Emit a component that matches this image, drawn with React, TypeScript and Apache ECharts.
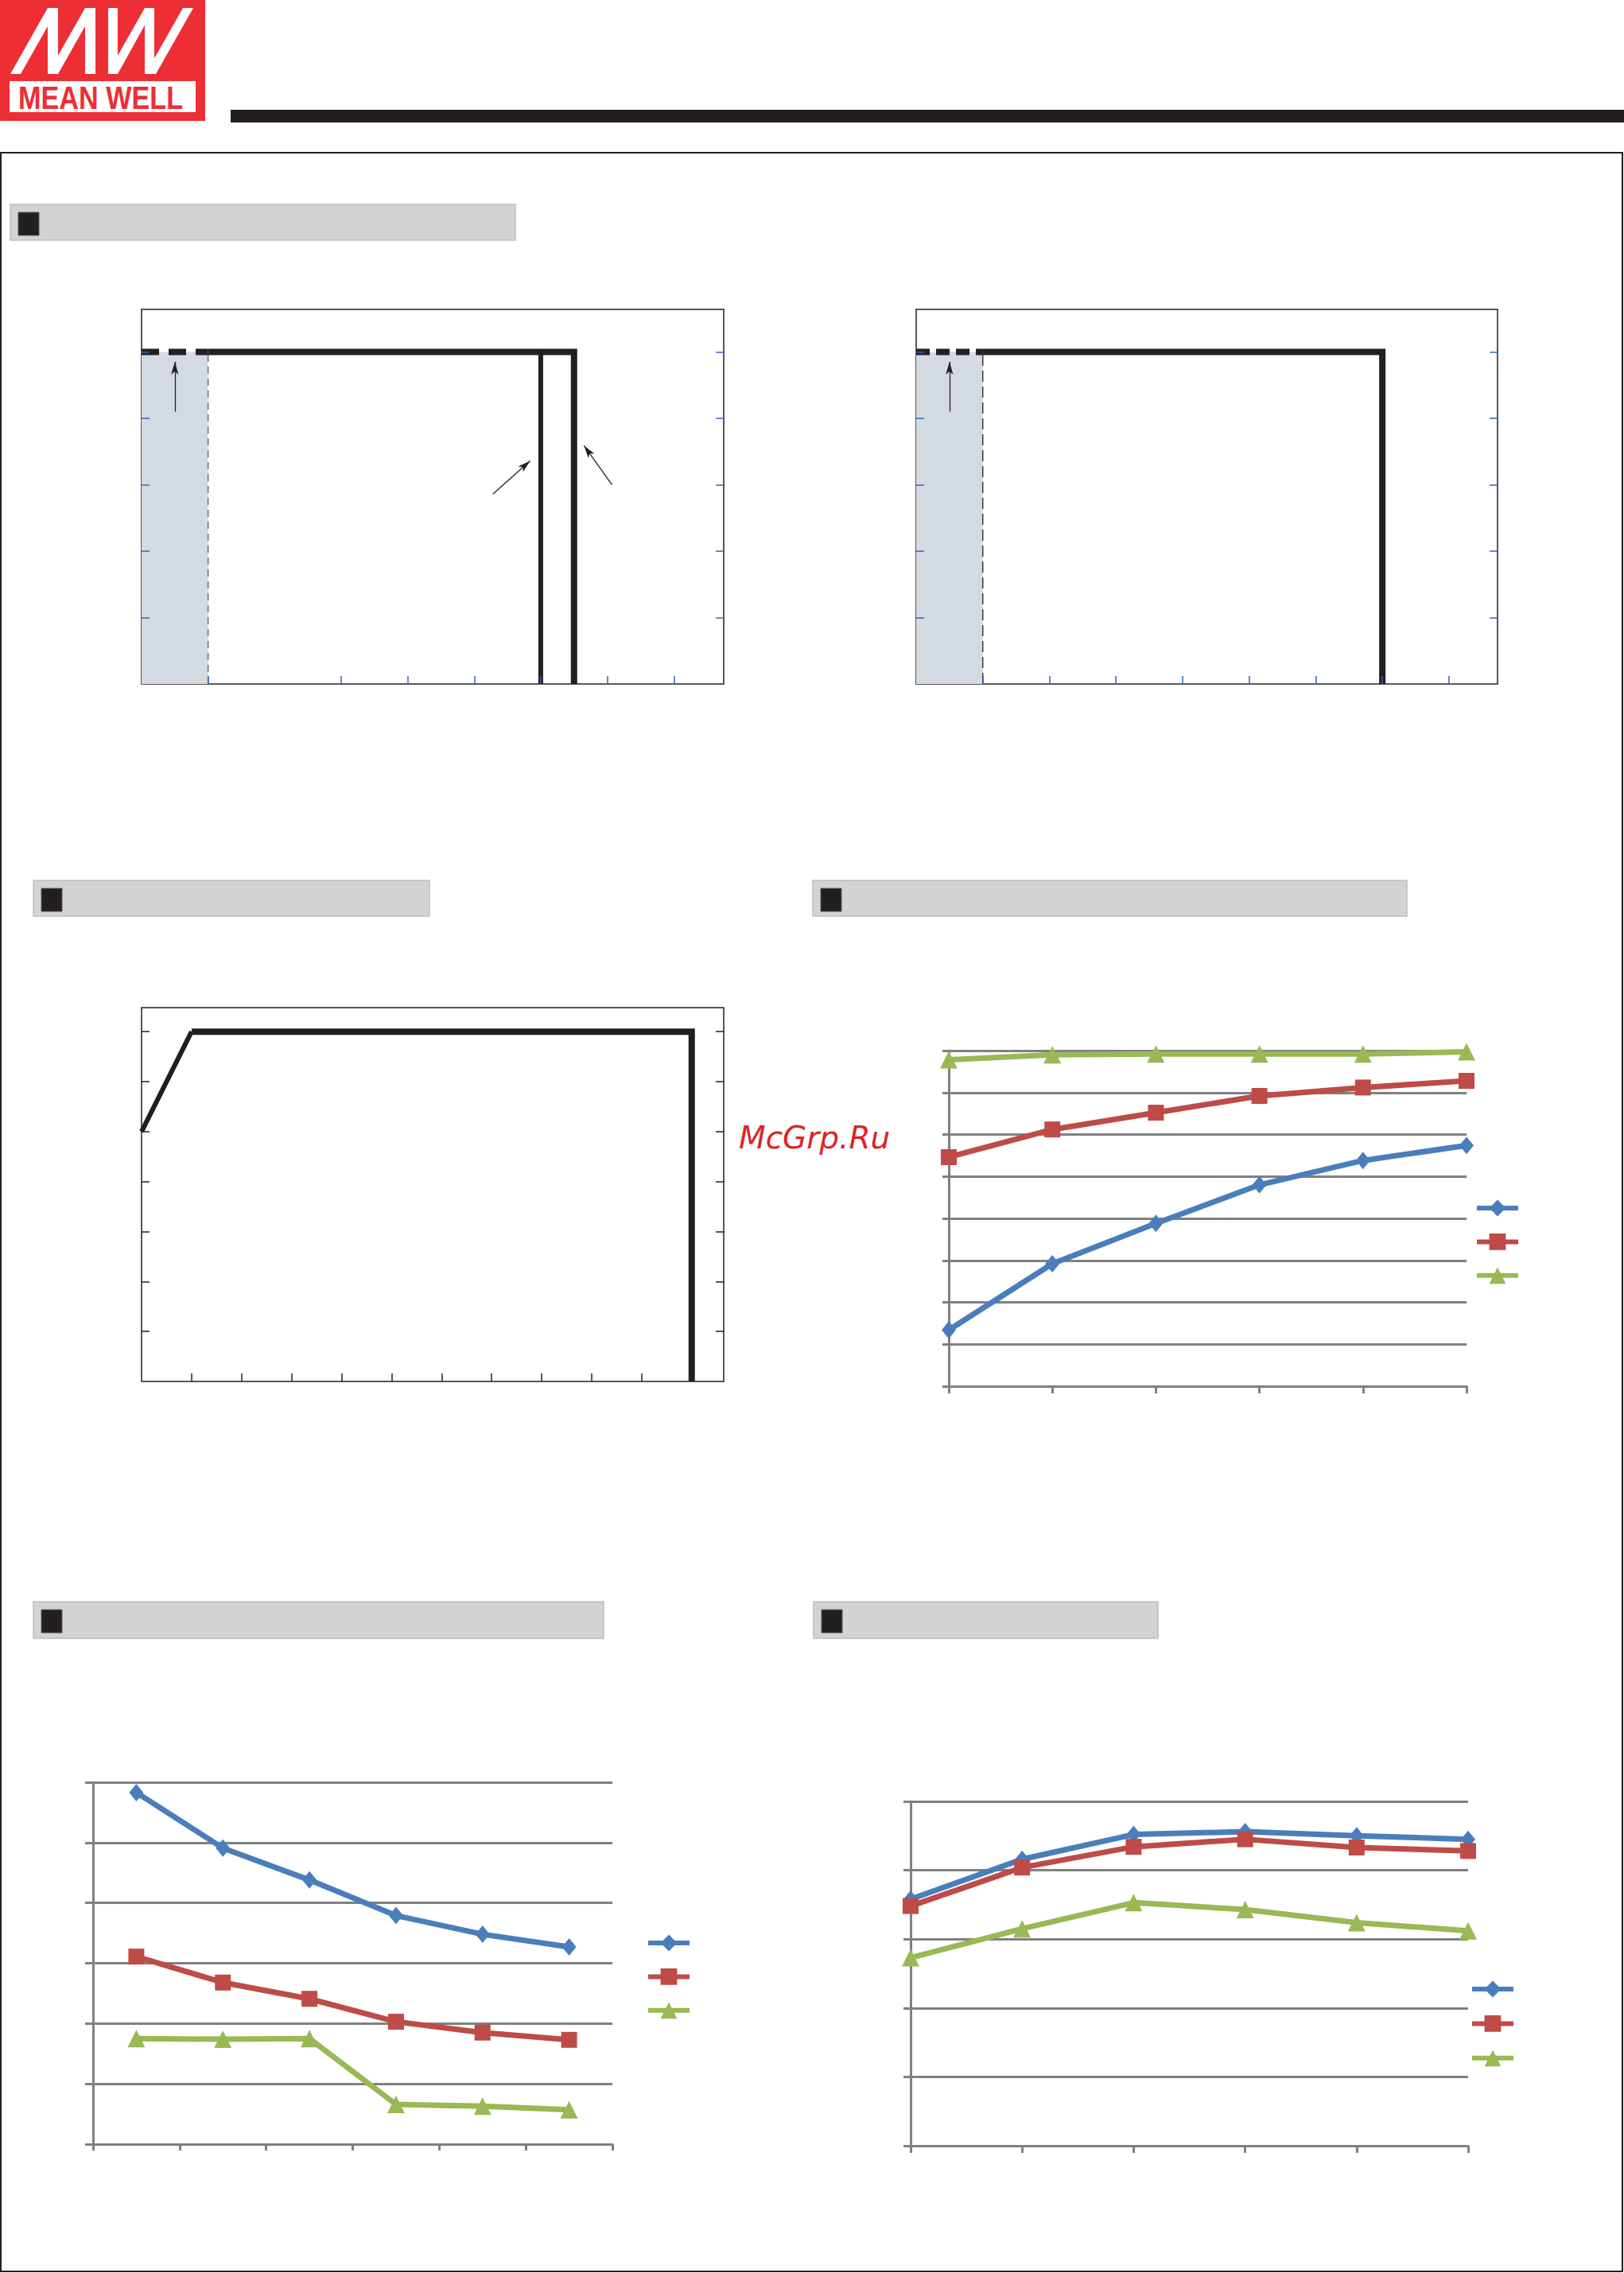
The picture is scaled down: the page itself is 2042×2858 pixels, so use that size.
import React, { useEffect, useRef } from 'react';
import * as echarts from 'echarts';

// ---------------- data ----------------
// Derating curve A (two mounting directions)
const DERATE_A_DASHED: [number, number][] = [[-30, 100], [-20, 100]];
const DERATE_A_MAIN: [number, number][] = [[-20, 100], [35, 100], [35, 0]];
const DERATE_A_ALT: [number, number][] = [[30, 100], [30, 0]];
const DERATE_A_SHADE: [number, number] = [-30, -20];
const DERATE_A_ARROWS: [number, number][][] = [
  [[-25, 82], [-25, 97]],
  [[22.8, 57.2], [28.4, 67.2]],
  [[40.7, 60], [36.5, 71.8]],
];
const DERATE_A_XTICKS = [-20, 0, 10, 20, 30, 40, 50];

// Derating curve B
const DERATE_B_DASHED: [number, number][] = [[-30, 100], [-20, 100]];
const DERATE_B_MAIN: [number, number][] = [[-20, 100], [40, 100], [40, 0]];
const DERATE_B_SHADE: [number, number] = [-30, -20];
const DERATE_B_ARROWS: [number, number][][] = [[[-25, 82], [-25, 97]]];
const DERATE_B_XTICKS = [-20, -10, 0, 10, 20, 30, 40, 50];
const DERATE_YTICKS = [20, 40, 60, 80, 100];

// Output derating vs input voltage
const INPUT_SLOPE: [number, number][] = [[90, 80], [100, 100]];
const INPUT_FLAT: [number, number][] = [[100, 100], [200, 100], [200, 30]];
const INPUT_XTICKS = [100, 110, 120, 130, 140, 150, 160, 170, 180, 190, 200];
const INPUT_YTICKS = [40, 50, 60, 70, 80, 90, 100];

// Efficiency vs load
const EFF_CATS = ['10%', '20%', '40%', '60%', '80%', '100%'];
const EFF_A = [56.7, 64.6, 69.4, 74.0, 76.9, 78.7];
const EFF_B = [77.3, 80.6, 82.6, 84.6, 85.6, 86.4];
const EFF_C = [88.9, 89.5, 89.6, 89.6, 89.6, 89.85];

// Bottom-left chart
const P5_CATS = ['1', '2', '3', '4', '5', '6'];
const P5_A = [0.583, 0.491, 0.438, 0.379, 0.348, 0.327];
const P5_B = [0.311, 0.268, 0.241, 0.203, 0.185, 0.173];
const P5_C = [0.175, 0.174, 0.175, 0.066, 0.063, 0.057];

// Bottom-right chart
const P6_CATS = ['1', '2', '3', '4', '5', '6'];
const P6_A = [85.8, 91.6, 95.2, 95.6, 95.0, 94.5];
const P6_B = [84.8, 90.4, 93.4, 94.5, 93.3, 92.8];
const P6_C = [77.3, 81.5, 85.3, 84.3, 82.4, 81.2];

// ---------------- styles ----------------
const INK = '#231f20';
const TICK_BLUE = '#3565b0';
const GRID_GREY = '#808080';
const BLUE = '#4a7ebb';
const RED = '#be4b48';
const GREEN = '#98b954';
const SHADE = '#d3dae1';

// header boxes [x, y, w, h]
const HEADERS: number[][] = [
  [13, 257, 635, 45],
  [42, 1107, 498, 45],
  [1022, 1107, 747, 45],
  [42, 2014, 717, 46],
  [1023, 2014, 433, 46],
];

const MW_STROKES: number[][][] = [
  [[13, 93], [26, 93], [73, 10], [60, 10]],
  [[60, 10], [73, 10], [73, 93], [60, 93]],
  [[73, 70], [107, 10], [120, 10], [73, 93]],
  [[107, 10], [120, 10], [120, 93], [107, 93]],
  [[136, 10], [148, 10], [148, 93], [136, 93]],
  [[148, 70], [182, 10], [194, 10], [148, 93]],
  [[182, 10], [194, 10], [194, 93], [182, 93]],
  [[183, 93], [196, 93], [243, 10], [230, 10]],
];

function boxValueX(gridIndex: number, min: number, max: number, ticks: number[], color: string) {
  return {
    type: 'value', gridIndex, min, max, z: 10,
    axisLine: { show: false, onZero: false },
    axisTick: { show: true, inside: true, length: 10, customValues: ticks, lineStyle: { color, width: 1.5 } },
    axisLabel: { show: false },
    splitLine: { show: false },
  };
}
function boxValueY(gridIndex: number, min: number, max: number, ticks: number[], color: string, position: string) {
  return {
    type: 'value', gridIndex, min, max, position, z: 10,
    axisLine: { show: false, onZero: false },
    axisTick: { show: true, inside: true, length: 10, customValues: ticks, lineStyle: { color, width: 1.5 } },
    axisLabel: { show: false },
    splitLine: { show: false },
  };
}
function catX(gridIndex: number, data: string[], boundaryGap: boolean, tickLen: number) {
  return {
    type: 'category', gridIndex, data, boundaryGap,
    axisLine: { show: true, onZero: false, lineStyle: { color: GRID_GREY, width: 3 } },
    axisTick: { show: true, length: tickLen, lineStyle: { color: GRID_GREY, width: 3 } },
    axisLabel: { show: false },
    splitLine: { show: false },
  };
}
function gridY(gridIndex: number, min: number, max: number, interval: number, tickLen: number) {
  return {
    type: 'value', gridIndex, min, max, interval,
    axisLine: { show: true, onZero: false, lineStyle: { color: GRID_GREY, width: 3 } },
    axisTick: { show: true, length: tickLen, lineStyle: { color: GRID_GREY, width: 3 } },
    axisLabel: { show: false },
    splitLine: { show: true, lineStyle: { color: GRID_GREY, width: 3 } },
  };
}
function inkLine(data: [number, number][], xi: number, yi: number, width: number, dash?: number[]) {
  return {
    type: 'line', data, xAxisIndex: xi, yAxisIndex: yi, symbol: 'none', z: 4,
    lineStyle: { color: INK, width, type: dash || 'solid', join: 'miter', cap: 'butt' },
    silent: true,
  };
}
function arrows(list: [number, number][][]) {
  return {
    silent: true,
    symbol: ['none', 'arrow'],
    symbolSize: [7, 16],
    label: { show: false },
    lineStyle: { color: INK, width: 1.3, type: 'solid' },
    data: list.map(([a, b]) => [{ coord: a }, { coord: b }]),
  };
}
function shadeSeries(shade: [number, number], xi: number, yi: number, dash: number[], color: string) {
  return {
    type: 'line', xAxisIndex: xi, yAxisIndex: yi, symbol: 'none', z: 2, silent: true,
    data: [[shade[1], 0], [shade[1], 100]],
    lineStyle: { color, width: 1.5, type: dash },
    markArea: {
      silent: true,
      itemStyle: { color: SHADE },
      data: [[{ coord: [shade[0], 0] }, { coord: [shade[1], 100] }]],
    },
  };
}
function markerLine(name: string, data: number[], color: string, symbol: string, size: any, xi: number, yi: number) {
  return {
    type: 'line', name, data, xAxisIndex: xi, yAxisIndex: yi, symbol, symbolSize: size, z: 3,
    lineStyle: { color, width: 7 },
    itemStyle: { color },
  };
}
function legendAt(left: number, centerTop: number, step: number, names: string[]) {
  const h = 26;
  return {
    left, top: centerTop - h / 2, orient: 'vertical', padding: 0, itemWidth: 52, itemHeight: h, itemGap: step - h,
    selectedMode: false, formatter: () => '', data: names,
    lineStyle: { width: 6 },
  };
}

function buildOption() {
  const graphic: any[] = [];
  graphic.push({ type: 'rect', shape: { x: 0, y: 0, width: 258, height: 152 }, style: { fill: '#ed2e34' } });
  graphic.push({ type: 'rect', shape: { x: 12, y: 102, width: 234, height: 39 }, style: { fill: '#ffffff' } });
  MW_STROKES.forEach((pts) => graphic.push({ type: 'polygon', shape: { points: pts }, style: { fill: '#ffffff' } }));
  graphic.push({
    type: 'text', x: 23, y: 123, scaleX: 0.855,
    style: { text: 'MEAN WELL', x: 0, y: 0, fill: '#ed2e34', font: 'bold 40px "Liberation Sans", Arial, sans-serif', textAlign: 'left', textVerticalAlign: 'middle' },
  });
  graphic.push({ type: 'rect', shape: { x: 290, y: 138, width: 1752, height: 16 }, style: { fill: INK } });
  HEADERS.forEach(([x, y, w, h]) => {
    graphic.push({ type: 'rect', shape: { x, y, width: w, height: h }, style: { fill: '#d1d3d4', stroke: '#bcbec0', lineWidth: 1.5 } });
    graphic.push({ type: 'rect', shape: { x: x + 10, y: y + 10, width: 26, height: 29 }, style: { fill: INK, stroke: '#58595b', lineWidth: 1 } });
  });
  graphic.push({
    type: 'text', x: 929, y: 1430,
    style: { text: 'McGrp.Ru', x: 0, y: 0, fill: '#dd2424', font: 'italic 39px "DejaVu Sans", sans-serif', textAlign: 'left', textVerticalAlign: 'middle' },
  });
  graphic.push({ type: 'rect', z: 100, shape: { x: 1, y: 192, width: 2039, height: 2664 }, style: { fill: 'none', stroke: INK, lineWidth: 2 } });

  const boxGrid = { show: true, borderColor: INK, borderWidth: 1.5, backgroundColor: 'transparent' };

  return {
    animation: false,
    backgroundColor: '#ffffff',
    textStyle: { fontFamily: 'Liberation Sans' },
    graphic,
    grid: [
      { left: 178, top: 389, width: 732, height: 471, ...boxGrid },
      { left: 1152, top: 389, width: 731, height: 471, ...boxGrid },
      { left: 178, top: 1267, width: 732, height: 470, ...boxGrid },
      { left: 1193, top: 1321, width: 651, height: 422 },
      { left: 117, top: 2241, width: 653, height: 455 },
      { left: 1145, top: 2265, width: 701, height: 433 },
    ],
    xAxis: [
      boxValueX(0, -30, 57.5, DERATE_A_XTICKS, TICK_BLUE),
      boxValueX(1, -30, 57.3, DERATE_B_XTICKS, TICK_BLUE),
      boxValueX(2, 90, 206.4, INPUT_XTICKS, INK),
      catX(3, EFF_CATS, false, 9),
      catX(4, P5_CATS, true, 8),
      catX(5, P6_CATS, false, 9),
    ],
    yAxis: [
      boxValueY(0, 0, 112.8, DERATE_YTICKS, TICK_BLUE, 'left'),
      boxValueY(0, 0, 112.8, DERATE_YTICKS, TICK_BLUE, 'right'),
      boxValueY(1, 0, 112.8, DERATE_YTICKS, TICK_BLUE, 'left'),
      boxValueY(1, 0, 112.8, DERATE_YTICKS, TICK_BLUE, 'right'),
      boxValueY(2, 30, 104.8, INPUT_YTICKS, INK, 'left'),
      boxValueY(2, 30, 104.8, INPUT_YTICKS, INK, 'right'),
      gridY(3, 50, 90, 5, 8),
      gridY(4, 0, 0.6, 0.1, 10),
      gridY(5, 50, 100, 10, 9),
    ],
    legend: [
      legendAt(1854, 1519, 45, ['Eff A', 'Eff B', 'Eff C']),
      legendAt(812, 2443, 45, ['P5 A', 'P5 B', 'P5 C']),
      legendAt(1848, 2501, 46, ['P6 A', 'P6 B', 'P6 C']),
    ],
    series: [
      // chart 1
      shadeSeries(DERATE_A_SHADE, 0, 0, [9, 6], '#6d6e71'),
      inkLine(DERATE_A_DASHED, 0, 0, 8, [22, 12]),
      inkLine(DERATE_A_MAIN, 0, 0, 8),
      { ...inkLine(DERATE_A_ALT, 0, 0, 6), markLine: arrows(DERATE_A_ARROWS) },
      // chart 2
      shadeSeries(DERATE_B_SHADE, 1, 2, [14, 6], '#3a3a3c'),
      inkLine(DERATE_B_DASHED, 1, 2, 8, [17, 8]),
      { ...inkLine(DERATE_B_MAIN, 1, 2, 8), markLine: arrows(DERATE_B_ARROWS) },
      // chart 3
      inkLine(INPUT_SLOPE, 2, 4, 6),
      inkLine(INPUT_FLAT, 2, 4, 8),
      // chart 4
      markerLine('Eff A', EFF_A, BLUE, 'diamond', [18, 22], 3, 6),
      markerLine('Eff B', EFF_B, RED, 'rect', 20, 3, 6),
      markerLine('Eff C', EFF_C, GREEN, 'triangle', 22, 3, 6),
      // chart 5
      markerLine('P5 A', P5_A, BLUE, 'diamond', [18, 22], 4, 7),
      markerLine('P5 B', P5_B, RED, 'rect', 20, 4, 7),
      markerLine('P5 C', P5_C, GREEN, 'triangle', 22, 4, 7),
      // chart 6
      markerLine('P6 A', P6_A, BLUE, 'diamond', [18, 22], 5, 8),
      markerLine('P6 B', P6_B, RED, 'rect', 20, 5, 8),
      markerLine('P6 C', P6_C, GREEN, 'triangle', 22, 5, 8),
    ],
  };
}

export default function App() {
  const ref = useRef<HTMLDivElement>(null);
  useEffect(() => {
    if (!ref.current) return;
    const chart = echarts.init(ref.current, null, { renderer: 'svg', width: 2042, height: 2858 });
    chart.setOption(buildOption() as any);
    return () => chart.dispose();
  }, []);
  return (
    <div
      ref={ref}
      style={{ position: 'absolute', left: 0, top: 0, width: 2042, height: 2858, background: '#ffffff' }}
    />
  );
}
